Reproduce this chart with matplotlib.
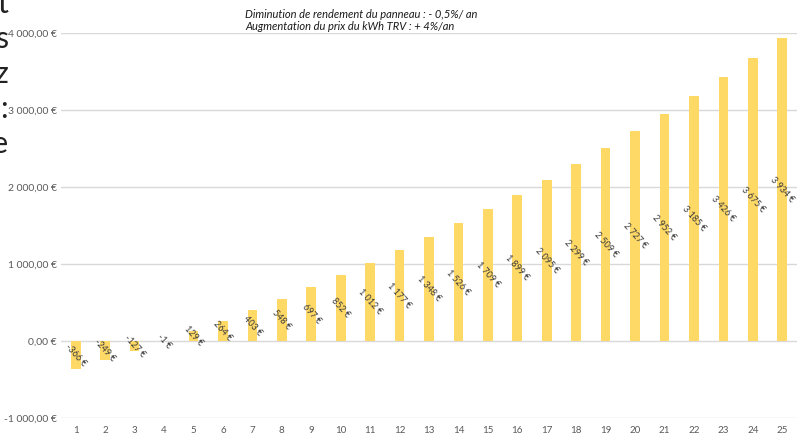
import matplotlib.pyplot as plt
import numpy as np

# données : gain cumulé par année
annees = list(range(1, 26))
gains = [-366, -249, -127, -1, 129, 264, 403, 548, 697, 852, 1012, 1177, 1348,
         1526, 1709, 1899, 2095, 2299, 2509, 2727, 2952, 3185, 3426, 3675, 3934]
yticks = [-1000, 0, 1000, 2000, 3000, 4000]
titre = ["Diminution de rendement du panneau : - 0,5%/ an",
         "Augmentation du prix du kWh TRV : + 4%/an"]
fragments = ["t", "s", "z", ":", "e"]


def fmt_euro(v, dec=False):
    s = f"{abs(v):,.2f}" if dec else f"{abs(v):,.0f}"
    s = s.replace(",", " ").replace(".", ",")
    return ("-" if v < 0 else "") + s + " €"


plt.rcParams['font.family'] = ['Lato', 'DejaVu Sans']

fig = plt.figure(figsize=(8.01, 4.34), dpi=100)
ax = fig.add_axes([61 / 801, 16 / 434, 736 / 801, 385 / 434])

ax.bar(annees, gains, width=0.33, color="#FFD966", zorder=2)
ax.set_xlim(0.5, 25.5)
ax.set_ylim(-1000, 4000)
ax.set_yticks(yticks)
ax.set_yticklabels([fmt_euro(v, dec=True) for v in yticks], fontsize=7.5, color="#595959")
ax.set_xticks(annees)
ax.set_xticklabels([str(a) for a in annees], fontsize=7, color="#595959")
ax.tick_params(length=0)
ax.tick_params(axis='x', pad=5.5)
ax.tick_params(axis='y', pad=3)
ax.grid(axis='y', color="#D9D9D9", linewidth=1, zorder=0)
for s in ax.spines.values():
    s.set_visible(False)

# étiquettes au milieu des barres
for x, v in zip(annees, gains):
    ax.text(x, v / 2, fmt_euro(v), rotation=-48, ha='center', va='center',
            fontsize=6.5, color="#3a3a3a", rotation_mode='anchor', zorder=3)

# titre (deux lignes en italique)
fig.text(245 / 801, 1 - 14 / 434, titre[0], fontsize=8, style='italic',
         color="#1a1a1a", va='center', ha='left')
fig.text(245 / 801, 1 - 26 / 434, titre[1], fontsize=8, style='italic',
         color="#1a1a1a", va='center', ha='left')

# fragments de texte coupés à gauche (comme sur la capture)
for i, c in enumerate(fragments):
    fig.text(8 / 801, 1 - (4 + 35 * i) / 434, c, fontsize=22, color="#222222",
             ha='right', va='center')

fig.savefig("out.png", dpi=100)
